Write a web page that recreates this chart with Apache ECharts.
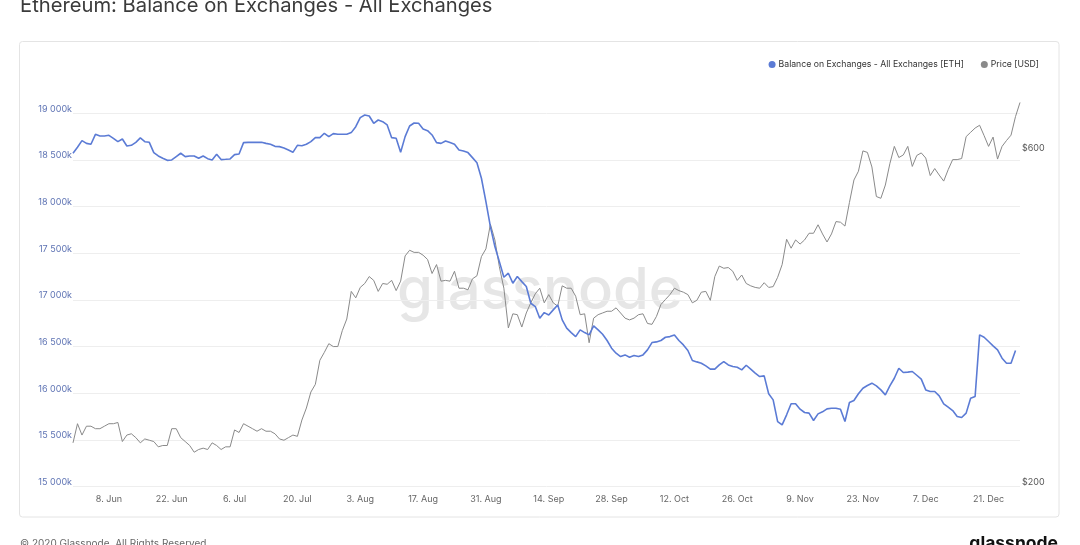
<!DOCTYPE html>
<html>
<head>
<meta charset="utf-8">
<script src="https://cdn.jsdelivr.net/npm/echarts@6/dist/echarts.min.js"></script>
<style>
  html, body { margin: 0; padding: 0; background: #ffffff; }
  #chart { width: 1080px; height: 545px; }
</style>
</head>
<body>
<div id="chart"></div>
<script>
// ---- Data (daily, starting 31 May 2020) ----
const startDate = '2020-05-31';
const dayCount = 212;

// Balance on Exchanges - All Exchanges [ETH], in thousands of ETH (k)
const balanceEth = [
  18572, 18636, 18707, 18678, 18668, 18775, 18757, 18757, 18764, 18732,
  18696, 18725, 18650, 18657, 18689, 18736, 18696, 18689, 18579, 18543,
  18518, 18496, 18500, 18536, 18572, 18536, 18543, 18543, 18518, 18543,
  18514, 18500, 18561, 18504, 18507, 18511, 18557, 18564, 18686, 18689,
  18689, 18689, 18689, 18678, 18668, 18646, 18643, 18629, 18607, 18582,
  18657, 18653, 18668, 18696, 18739, 18739, 18786, 18750, 18782, 18775,
  18775, 18775, 18793, 18857, 18953, 18982, 18971, 18893, 18928, 18910,
  18875, 18739, 18732, 18582, 18750, 18864, 18896, 18893, 18832, 18814,
  18768, 18686, 18678, 18704, 18686, 18668, 18607, 18596, 18579, 18525,
  18471, 18304, 18054, 17786, 17572, 17411, 17244, 17287, 17180, 17251,
  17197, 17144, 16965, 16930, 16805, 16865, 16840, 16894, 16947, 16787,
  16698, 16651, 16608, 16680, 16651, 16626, 16723, 16680, 16633, 16566,
  16484, 16430, 16394, 16412, 16387, 16405, 16394, 16412, 16466, 16544,
  16551, 16566, 16601, 16608, 16626, 16566, 16519, 16459, 16352, 16337,
  16323, 16294, 16259, 16259, 16305, 16341, 16305, 16287, 16280, 16252,
  16301, 16259, 16216, 16180, 16187, 15995, 15930, 15698, 15663, 15770,
  15888, 15888, 15830, 15795, 15788, 15709, 15780, 15802, 15834, 15841,
  15841, 15830, 15698, 15902, 15923, 15995, 16055, 16084, 16109, 16080,
  16037, 15984, 16080, 16162, 16269, 16223, 16227, 16234, 16194, 16152,
  16037, 16020, 16020, 15973, 15888, 15852, 15816, 15752, 15741, 15788,
  15948, 15966, 16626, 16601, 16555, 16509, 16466, 16377, 16323, 16323,
  16459
];

// Price [USD]
const priceUsd = [
  231, 246, 237, 244, 244, 242, 242, 244, 246, 246,
  247, 232, 237, 238, 235, 231, 234, 233, 232, 228,
  229, 229, 242, 242, 235, 232, 229, 224, 226, 227,
  226, 231, 229, 226, 228, 228, 241, 239, 246, 244,
  242, 240, 242, 240, 240, 238, 234, 233, 235, 237,
  236, 249, 259, 273, 280, 303, 311, 320, 317, 317,
  334, 347, 380, 372, 385, 390, 399, 394, 380, 390,
  389, 394, 381, 393, 427, 435, 432, 432, 428, 422,
  403, 415, 393, 394, 393, 406, 384, 384, 382, 396,
  400, 426, 437, 474, 450, 412, 384, 337, 353, 352,
  338, 354, 366, 377, 384, 366, 376, 366, 362, 387,
  384, 384, 374, 352, 353, 321, 348, 352, 354, 356,
  356, 360, 354, 348, 346, 348, 352, 353, 342, 341,
  350, 364, 370, 376, 384, 381, 379, 376, 366, 369,
  379, 380, 369, 399, 413, 410, 411, 406, 394, 401,
  390, 387, 385, 384, 391, 385, 386, 398, 415, 451,
  438, 450, 444, 450, 460, 460, 473, 459, 447, 459,
  478, 477, 471, 509, 548, 564, 603, 600, 572, 519,
  516, 539, 578, 612, 590, 595, 612, 573, 594, 599,
  589, 556, 569, 557, 546, 567, 586, 586, 588, 632,
  641, 650, 656, 634, 612, 631, 587, 612, 624, 635,
  675, 707
];

// Axis ticks
const balanceTicks = [15000, 19000, 500];          // min, max, step (thousands of ETH)
const priceTicksUsd = [200, 600];                    // labelled ticks on the log price axis
const priceLogBase = 3;                              // 200 -> 600 is one step
const dateLabelFirstIndex = 8;                       // 8 Jun
const dateLabelStep = 14;                            // two weeks
const monthNames = ['Jan','Feb','Mar','Apr','May','Jun','Jul','Aug','Sep','Oct','Nov','Dec'];

// ---- Build categories ----
const dates = [];
{
  const t0 = Date.parse(startDate + 'T00:00:00Z');
  for (let i = 0; i < dayCount; i++) {
    dates.push(new Date(t0 + i * 86400000).toISOString().slice(0, 10));
  }
}

// log-scale mapping for price (in units of log base 3 relative to $200)
const priceBase = priceTicksUsd[0];
const toLog = p => Math.log(p / priceBase) / Math.log(priceLogBase);
const priceLog = priceUsd.map(toLog);
const priceAxisMax = 1.117;

const chart = echarts.init(document.getElementById('chart'), null, { renderer: 'canvas' });

const FONT = 'Inter, "Noto Sans", sans-serif';

chart.setOption({
  animation: false,
  backgroundColor: '#ffffff',
  textStyle: { fontFamily: FONT },
  graphic: [
    {
      type: 'rect', z: -10, silent: true,
      shape: { x: 19.5, y: 41.5, width: 1039.5, height: 475.5, r: 3 },
      style: { fill: '#ffffff', stroke: '#e4e4e4', lineWidth: 1 }
    },
    {
      type: 'text', z: -5, silent: true,
      style: {
        text: 'glassnode', x: 540, y: 292, align: 'center', verticalAlign: 'middle',
        font: '500 58px ' + FONT, fill: '#e6e6e6'
      }
    },
    {
      type: 'text', silent: true,
      style: {
        text: 'Ethereum: Balance on Exchanges - All Exchanges', x: 20, y: 6,
        verticalAlign: 'middle', font: '400 20.2px ' + FONT, fill: '#3b3b3b'
      }
    },
    {
      type: 'text', silent: true,
      style: {
        text: '\u00a9 2020 Glassnode. All Rights Reserved.', x: 20, y: 539,
        verticalAlign: 'top', font: '400 10px ' + FONT, fill: '#666666'
      }
    },
    {
      type: 'text', silent: true,
      style: {
        text: 'glassnode', x: 1058, y: 535, align: 'right',
        verticalAlign: 'top', font: '700 17.5px ' + FONT, fill: '#111111'
      }
    }
  ],
  legend: {
    data: ['Balance on Exchanges - All Exchanges [ETH]', 'Price [USD]'],
    right: 36, top: 55,
    icon: 'circle', itemWidth: 7, itemHeight: 7, itemGap: 17,
    textStyle: { fontSize: 8.7, color: '#333333', fontFamily: FONT, padding: [0, 0, 0, -2] }
  },
  grid: { left: 73, right: 60, top: 113.3, bottom: 58.3, containLabel: false },
  xAxis: {
    type: 'category',
    data: dates,
    boundaryGap: false,
    axisLine: { show: false },
    axisTick: { show: false },
    splitLine: { show: false },
    axisLabel: {
      color: '#666666', fontSize: 9, margin: 8, fontFamily: FONT,
      interval: (idx) => idx >= dateLabelFirstIndex && (idx - dateLabelFirstIndex) % dateLabelStep === 0,
      formatter: (v) => {
        const d = new Date(v + 'T00:00:00Z');
        return d.getUTCDate() + '. ' + monthNames[d.getUTCMonth()];
      }
    }
  },
  yAxis: [
    {
      type: 'value', position: 'left',
      min: balanceTicks[0], max: balanceTicks[1], interval: balanceTicks[2],
      axisLine: { show: false }, axisTick: { show: false },
      splitLine: { lineStyle: { color: '#eeeeee', width: 1 } },
      axisLabel: {
        color: '#5f74b4', fontSize: 9, margin: 1, fontFamily: FONT,
        verticalAlign: 'bottom',
        formatter: (v) => {
          const s = String(v);
          return s.slice(0, s.length - 3) + ' ' + s.slice(-3) + 'k';
        }
      }
    },
    {
      type: 'value', position: 'right',
      min: 0, max: priceAxisMax, interval: 1,
      axisLine: { show: false }, axisTick: { show: false },
      splitLine: { show: false },
      axisLabel: {
        color: '#555555', fontSize: 9, margin: 2, fontFamily: FONT,
        verticalAlign: 'bottom', showMaxLabel: false,
        formatter: (v) => {
          const usd = Math.round(priceBase * Math.pow(priceLogBase, v));
          return priceTicksUsd.includes(usd) ? '$' + usd : '';
        }
      }
    }
  ],
  series: [
    {
      name: 'Price [USD]',
      type: 'line', yAxisIndex: 1, data: priceLog,
      showSymbol: false, symbol: 'none', clip: false,
      color: '#8a8a8a',
      lineStyle: { color: '#8a8a8a', width: 1 }
    },
    {
      name: 'Balance on Exchanges - All Exchanges [ETH]',
      type: 'line', yAxisIndex: 0, data: balanceEth,
      showSymbol: false, symbol: 'none',
      color: '#5b7bd5',
      lineStyle: { color: '#5b7bd5', width: 1.6 }
    }
  ]
});
</script>
</body>
</html>
